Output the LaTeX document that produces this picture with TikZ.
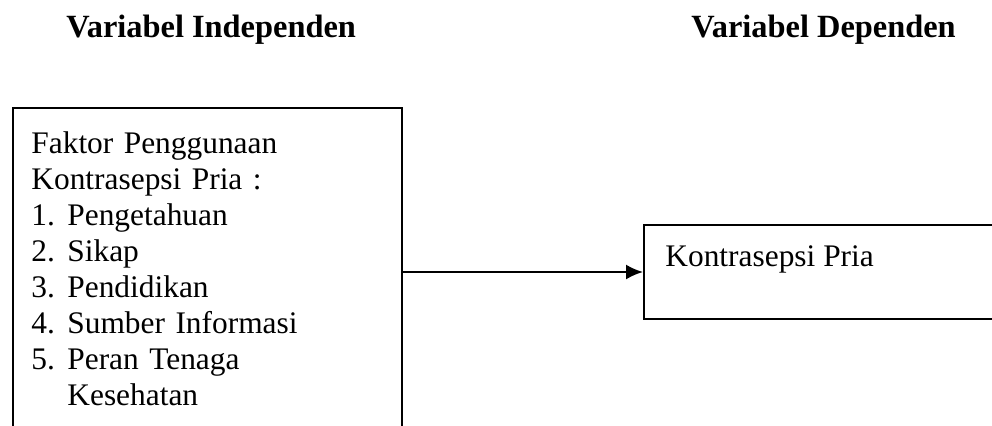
\documentclass[tikz,border=0pt]{standalone}
\usepackage{fontspec}
\setmainfont{Liberation Serif}
\usetikzlibrary{arrows.meta,calc}
\tikzset{
  frame/.style={draw=black, line width=1pt, inner sep=0pt},
  heading/.style={font=\fontsize{16.2}{18}\selectfont\bfseries, inner sep=0pt, anchor=base west},
  body/.style={font=\fontsize{15.7}{18}\selectfont, inner sep=0pt, align=left},
  link/.style={line width=1pt, -{Latex[length=8.5pt,width=7.5pt]}}
}
\newcommand{\itemnum}[1]{\makebox[18pt][l]{#1}}
\begin{document}
\begin{tikzpicture}[x=0.5pt,y=-0.5pt]
\useasboundingbox (0,0) rectangle (992,425);
\clip (0,0) rectangle (992,425);

% headings
\node[heading] (hIndep) at (66,37) {Variabel Independen};
\node[heading] (hDep) at (691,37) {Variabel Dependen};

% independent-variable box (runs past the lower edge)
\node[frame, anchor=north west, minimum width=194.5pt, minimum height=200pt] (indep) at (12,107) {};
\node[body, anchor=north west, text width=180pt] (indepText) at (31,131) {%
Faktor Penggunaan\\
Kontrasepsi Pria :\\
\itemnum{1.}Pengetahuan\\
\itemnum{2.}Sikap\\
\itemnum{3.}Pendidikan\\
\itemnum{4.}Sumber Informasi\\
\itemnum{5.}Peran Tenaga\\
\hspace*{18pt}Kesehatan};

% dependent-variable box (runs past the right edge)
\node[frame, anchor=north west, minimum width=200pt, minimum height=47pt] (dep) at (643,224) {};
\node[body, anchor=base west] (depText) at (665,266) {Kontrasepsi Pria};

% relation
\draw[link] (indep.east |- dep.west) -- (dep.west);
\end{tikzpicture}
\end{document}
